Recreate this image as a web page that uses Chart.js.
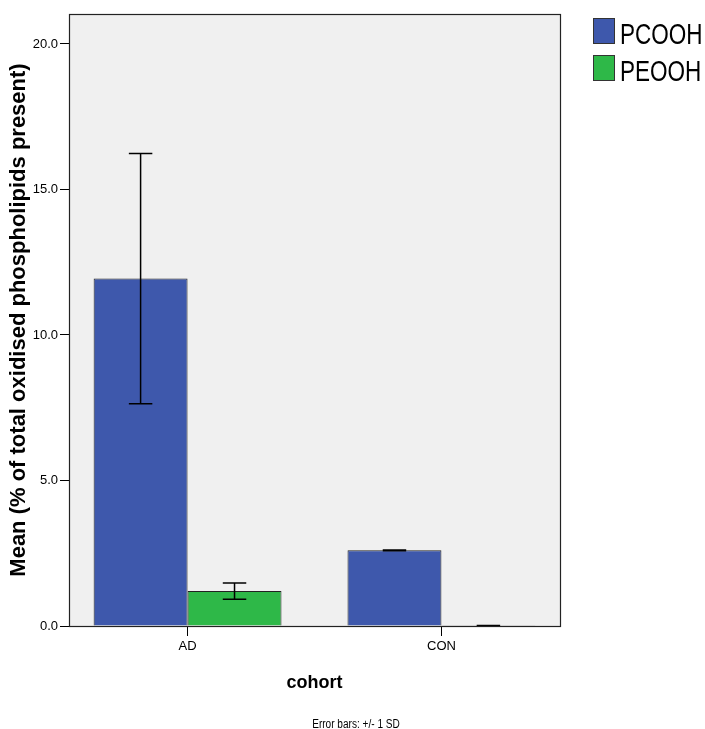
<!DOCTYPE html>
<html><head><meta charset="utf-8">
<script src="https://cdn.jsdelivr.net/npm/chart.js@4"></script>
<style>html,body{margin:0;padding:0;background:#fff;} #wrap{width:705px;height:729px;}</style>
</head><body><div id="wrap"><canvas id="c" width="705" height="729"></canvas></div>
<script>
// ---- data ----
const categories = ['AD', 'CON'];
const seriesNames = ['PCOOH', 'PEOOH'];
const pcoohMean = [11.94, 2.60];
const pcoohSD = [4.30, 0.01];
const peoohMean = [1.20, 0.01];
const peoohSD = [0.28, 0.005];
const yTicks = [0, 5, 10, 15, 20];
const yMax = 21.03;
const seriesColors = ['#3E58AC', '#2EB848'];
const xTitle = 'cohort';
const yTitle = 'Mean (% of total oxidised phospholipids present)';
const footnote = 'Error bars: +/- 1 SD';

const SANS = '"Liberation Sans", Arial, sans-serif';

const means = [pcoohMean, peoohMean];
const sds = [pcoohSD, peoohSD];

const datasets = seriesNames.map((name, s) => ({
  label: name,
  data: categories.map((c, i) => ({ x: i + 1, y: means[s][i] })),
  sd: sds[s],
  backgroundColor: seriesColors[s],
  borderColor: '#222',
  borderWidth: 1,
  categoryPercentage: 0.74,
  barPercentage: 1.0
}));

function narrowText(ctx, text, x, y, sx) {
  ctx.save();
  ctx.translate(x, y);
  ctx.scale(sx, 1);
  ctx.fillText(text, 0, 0);
  ctx.restore();
}

const bgPlugin = {
  id: 'plotBg',
  beforeDatasetsDraw(chart) {
    const { ctx, chartArea: a } = chart;
    ctx.save();
    ctx.fillStyle = '#F0F0F0';
    ctx.fillRect(a.left, a.top, a.right - a.left, a.bottom - a.top);
    ctx.restore();
  }
};

const errPlugin = {
  id: 'errBars',
  afterDatasetsDraw(chart) {
    const { ctx, chartArea: a } = chart;
    const ys = chart.scales.y;
    ctx.save();
    ctx.strokeStyle = '#000';
    ctx.lineWidth = 1.5;
    chart.data.datasets.forEach((ds, di) => {
      const meta = chart.getDatasetMeta(di);
      meta.data.forEach((el, i) => {
        const m = ds.data[i].y, sd = ds.sd[i];
        const yHi = ys.getPixelForValue(m + sd);
        const yLo = ys.getPixelForValue(Math.max(0, m - sd));
        const half = el.width * 0.125;
        ctx.beginPath();
        ctx.moveTo(el.x, yHi); ctx.lineTo(el.x, yLo);
        ctx.moveTo(el.x - half, yHi); ctx.lineTo(el.x + half, yHi);
        ctx.moveTo(el.x - half, yLo); ctx.lineTo(el.x + half, yLo);
        ctx.stroke();
      });
    });
    // plot frame
    ctx.strokeStyle = '#222';
    ctx.lineWidth = 1.2;
    ctx.strokeRect(Math.round(a.left) + 0.5, Math.round(a.top) + 0.5,
      Math.round(a.right - a.left), Math.round(a.bottom - a.top));
    ctx.restore();
  },
  afterDraw(chart) {
    const { ctx, chartArea: a } = chart;
    ctx.save();
    // legend
    const lx = a.right + 33;
    chart.data.datasets.forEach((ds, i) => {
      const top = 18 + i * 37;
      ctx.fillStyle = ds.backgroundColor;
      ctx.fillRect(lx, top, 22, 26);
      ctx.strokeStyle = '#333';
      ctx.lineWidth = 1;
      ctx.strokeRect(lx + 0.5, top + 0.5, 21, 25);
      ctx.fillStyle = '#000';
      ctx.font = '30px ' + SANS;
      ctx.textBaseline = 'alphabetic';
      ctx.textAlign = 'left';
      narrowText(ctx, ds.label, lx + 27, top + 26, 0.75);
    });
    // footnote
    ctx.font = '12px ' + SANS;
    ctx.textAlign = 'center';
    ctx.fillStyle = '#000';
    narrowText(ctx, footnote, 356, 727.5, 0.84);
    ctx.restore();
  }
};

new Chart(document.getElementById('c'), {
  type: 'bar',
  data: { datasets },
  options: {
    responsive: false,
    devicePixelRatio: 1,
    animation: false,
    layout: { padding: { left: 0, top: 14, right: 145, bottom: 0 } },
    plugins: { legend: { display: false }, tooltip: { enabled: false } },
    scales: {
      x: {
        type: 'linear',
        offset: false,
        min: 0.533,
        max: 2.467,
        afterBuildTicks(scale) { scale.ticks = categories.map((c, i) => ({ value: i + 1 })); },
        afterFit(scale) { scale.height = 103; },
        grid: { offset: false, drawOnChartArea: false, drawTicks: true, tickLength: 10, color: '#000', lineWidth: 1 },
        border: { display: false },
        ticks: {
          autoSkip: false, maxRotation: 0, padding: 3, color: '#000',
          font: { family: SANS, size: 13 },
          callback: v => categories[Math.round(v) - 1] || ''
        },
        title: {
          display: true, text: xTitle, color: '#000',
          font: { family: SANS, size: 18, weight: 'bold' },
          padding: { top: 0, bottom: 35 }
        }
      },
      y: {
        min: 0,
        max: yMax,
        afterBuildTicks(scale) { scale.ticks = yTicks.map(v => ({ value: v })); },
        afterFit(scale) { scale.width = 69; },
        grid: { drawOnChartArea: false, drawTicks: true, tickLength: 9, color: '#000', lineWidth: 1 },
        border: { display: false },
        ticks: {
          padding: 2, color: '#000',
          font: { family: SANS, size: 13 },
          callback: v => Number(v).toFixed(1)
        },
        title: {
          display: true, text: yTitle, color: '#000',
          font: { family: SANS, size: 22, weight: 'bold' },
          padding: { top: 6, bottom: 0 }
        }
      }
    }
  },
  plugins: [bgPlugin, errPlugin]
});
</script>
</body></html>
